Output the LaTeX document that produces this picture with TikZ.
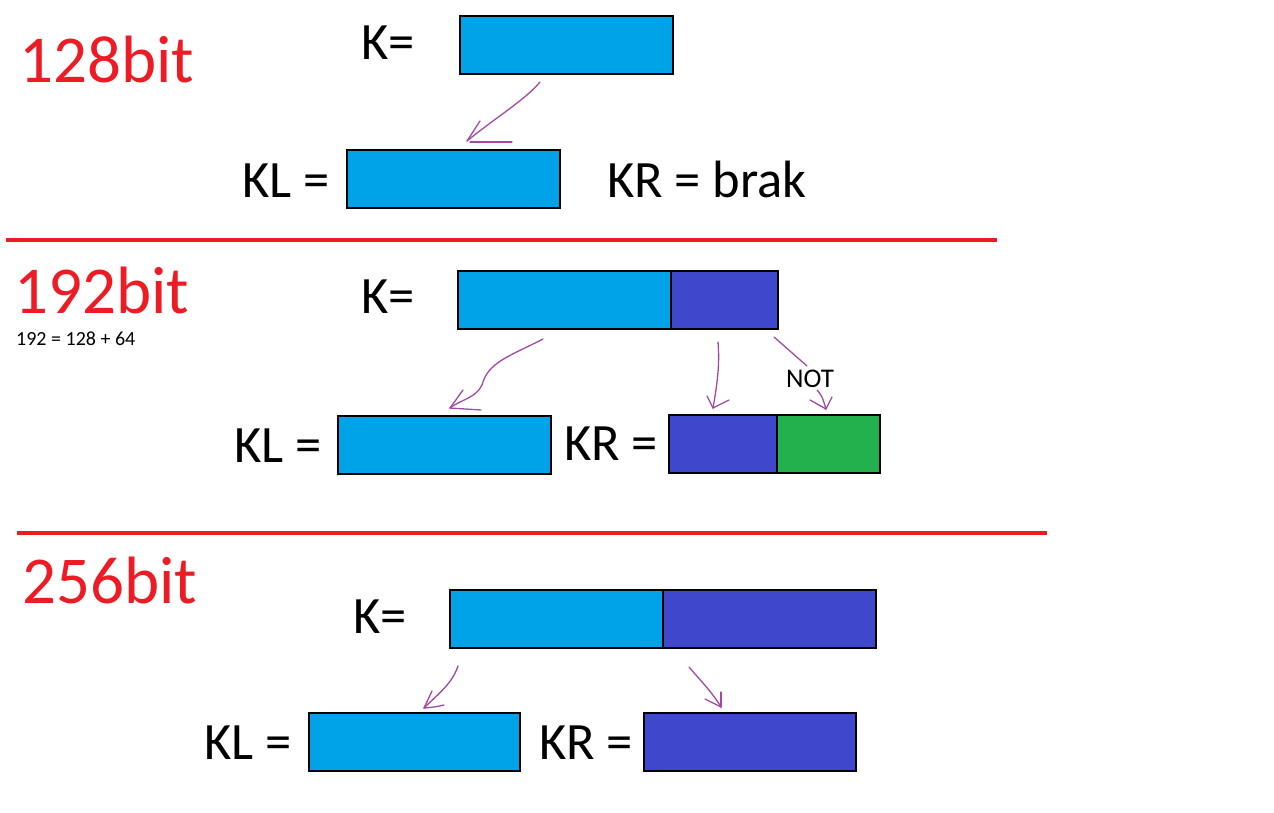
\documentclass[tikz,border=0pt]{standalone}
\usepackage{fontspec}
\setmainfont{Carlito}
\definecolor{paintblue}{RGB}{0,162,232}
\definecolor{paintindigo}{RGB}{63,72,204}
\definecolor{paintgreen}{RGB}{34,177,76}
\definecolor{paintred}{RGB}{237,28,36}
\definecolor{paintpurple}{RGB}{163,73,164}
\tikzset{
  keybox/.style={draw=black, line width=1.2pt, rectangle, inner sep=0pt, outer sep=0pt, anchor=north west, minimum height=58pt},
  bigtxt/.style={anchor=base west, inner sep=0pt, font=\fontsize{52.5}{62}\selectfont},
  redtxt/.style={anchor=base west, inner sep=0pt, text=paintred, font=\fontsize{67}{78}\selectfont},
  smalltxt/.style={anchor=base west, inner sep=0pt, font=\fontsize{20}{24}\selectfont},
  nottxt/.style={anchor=base west, inner sep=0pt, font=\fontsize{27}{31}\selectfont},
  sep/.style={draw=paintred, line width=3.6pt},
  pen/.style={draw=paintpurple, line width=1.3pt, line cap=round, line join=round}
}
\begin{document}
\begin{tikzpicture}[x=1pt,y=-1pt]
\useasboundingbox (0,0) rectangle (1274,812);
\fill[white] (0,0) rectangle (1274,812);

% ---------- 128 bit ----------
\node[redtxt] (t128) at (19,82) {128bit};
\node[bigtxt] (k1lab) at (361,59) {K=};
\node[keybox, fill=paintblue, minimum width=213pt] (k1) at (460,16) {};
\node[bigtxt] (kl1lab) at (242,197) {KL =};
\node[keybox, fill=paintblue, minimum width=213pt] (kl1) at (347,150) {};
\node[bigtxt] (kr1lab) at (607,197) {KR = brak};
\coordinate (a1s) at (540,82);
\coordinate (a1e) at (467,141);
\draw[pen] (a1s) .. controls (525,100) and (495,118) .. (a1e);
\draw[pen] (a1e) -- (480,121);
\draw[pen] (470,142) -- (512,142);

\coordinate (r1a) at (6,240);
\coordinate (r1b) at (997,240);
\draw[sep] (r1a) -- (r1b);

% ---------- 192 bit ----------
\node[redtxt] (t192) at (14,313) {192bit};
\node[smalltxt] (eq192) at (16,345) {192 = 128 + 64};
\node[bigtxt] (k2lab) at (361,313) {K=};
\node[keybox, fill=paintblue, minimum width=213pt] (k2a) at (458,271) {};
\node[keybox, fill=paintindigo, minimum width=107pt] (k2b) at (671,271) {};
\node[bigtxt] (kl2lab) at (234,462) {KL =};
\node[keybox, fill=paintblue, minimum width=213pt] (kl2) at (338,416) {};
\node[bigtxt] (kr2lab) at (564,460) {KR =};
\node[keybox, fill=paintindigo, minimum width=108pt] (kr2a) at (669,415) {};
\node[keybox, fill=paintgreen, minimum width=103pt] (kr2b) at (777,415) {};
\node[nottxt] (nott) at (786,387) {NOT};

\coordinate (a2s) at (543,339);
\coordinate (a2e) at (450,408);
\draw[pen] (a2s) .. controls (510,356) and (488,362) .. (482,385)
           .. controls (476,398) and (460,400) .. (a2e);
\draw[pen] (a2e) -- (463,390);
\draw[pen] (a2e) -- (481,410);

\coordinate (a3s) at (718,342);
\coordinate (a3e) at (713,408);
\draw[pen] (a3s) .. controls (720,365) and (717,385) .. (a3e);
\draw[pen] (a3e) -- (707,396);
\draw[pen] (a3e) -- (729,400);

\coordinate (a4s) at (774,337);
\coordinate (a4m) at (807,366);
\draw[pen] (a4s) -- (a4m);
\coordinate (a4t) at (817,390);
\coordinate (a4e) at (826,409);
\draw[pen] (a4t) .. controls (822,396) .. (a4e);
\draw[pen] (a4e) -- (810,400);
\draw[pen] (a4e) -- (832,397);

\coordinate (r2a) at (17,533);
\coordinate (r2b) at (1047,533);
\draw[sep] (r2a) -- (r2b);

% ---------- 256 bit ----------
\node[redtxt] (t256) at (22,603) {256bit};
\node[bigtxt] (k3lab) at (353,633) {K=};
\node[keybox, fill=paintblue, minimum width=213pt] (k3a) at (450,590) {};
\node[keybox, fill=paintindigo, minimum width=213pt] (k3b) at (663,590) {};
\node[bigtxt] (kl3lab) at (204,759) {KL =};
\node[keybox, fill=paintblue, minimum width=211pt] (kl3) at (309,713) {};
\node[bigtxt] (kr3lab) at (539,759) {KR =};
\node[keybox, fill=paintindigo, minimum width=212pt] (kr3) at (644,713) {};

\coordinate (a5s) at (458,666);
\coordinate (a5e) at (424,708);
\draw[pen] (a5s) .. controls (452,684) and (438,694) .. (a5e);
\draw[pen] (a5e) -- (432,691);
\draw[pen] (a5e) .. controls (435,707) .. (444,705);

\coordinate (a6s) at (689,667);
\coordinate (a6e) at (721,707);
\draw[pen] (a6s) .. controls (700,680) and (712,692) .. (a6e);
\draw[pen] (a6e) -- (721,692);
\draw[pen] (a6e) -- (705,699);
\end{tikzpicture}
\end{document}
